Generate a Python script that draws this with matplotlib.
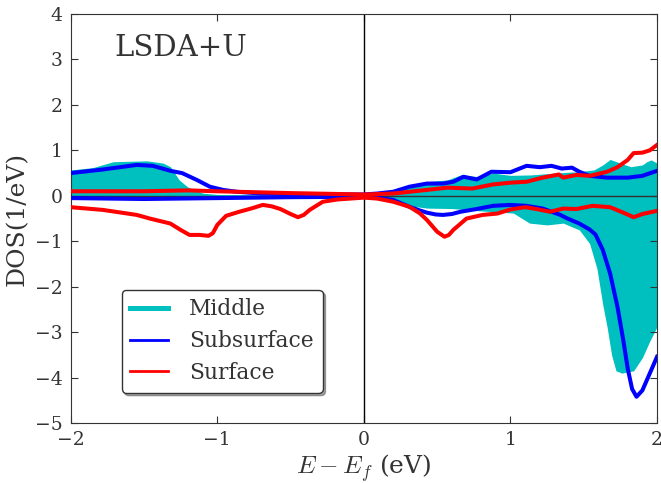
import matplotlib
matplotlib.use('Agg')
import matplotlib.pyplot as plt
from matplotlib.lines import Line2D
import numpy as np

plt.rcParams['font.family'] = 'DejaVu Serif'
plt.rcParams['mathtext.fontset'] = 'cm'
plt.rcParams['text.color'] = '#333333'
plt.rcParams['axes.labelcolor'] = '#333333'
plt.rcParams['xtick.color'] = '#333333'
plt.rcParams['ytick.color'] = '#333333'

# Layer-resolved DOS, spin up (positive) and spin down (negative)
mid_up_e = [-2.0, -1.85, -1.71, -1.6, -1.48, -1.37, -1.32, -1.26, -1.2, -1.1, -1.0, -0.5, 0.0,
            0.09, 0.2, 0.31, 0.43, 0.57, 0.66, 0.72, 0.79, 0.88, 1.0, 1.14, 1.3, 1.46, 1.57,
            1.63, 1.68, 1.75, 1.82, 1.9, 1.93, 1.96, 2.0]
mid_up = [0.57, 0.62, 0.75, 0.76, 0.77, 0.72, 0.64, 0.35, 0.19, 0.06, 0.03, 0.02, 0.02,
          0.04, 0.09, 0.24, 0.31, 0.35, 0.46, 0.44, 0.42, 0.5, 0.45, 0.46, 0.5, 0.53, 0.57,
          0.68, 0.8, 0.72, 0.64, 0.68, 0.75, 0.79, 0.72]

mid_dn_e = [-2.0, -1.5, -1.0, 0.0, 0.1, 0.2, 0.31, 0.43, 0.6, 0.79, 1.02, 1.13, 1.25, 1.36,
            1.47, 1.54, 1.59, 1.63, 1.66, 1.69, 1.72, 1.76, 1.84, 1.9, 1.95, 2.0]
mid_dn = [-0.06, -0.05, -0.03, -0.02, -0.04, -0.12, -0.22, -0.27, -0.28, -0.33, -0.38, -0.6,
          -0.64, -0.6, -0.75, -1.05, -1.6, -2.4, -2.9, -3.5, -3.85, -3.9, -3.85, -3.56, -3.2, -2.88]

sub_up_e = [-2.0, -1.78, -1.55, -1.44, -1.32, -1.24, -1.14, -1.05, -0.96, -0.87, -0.7, -0.3, 0.0,
            0.09, 0.2, 0.31, 0.43, 0.54, 0.61, 0.68, 0.77, 0.87, 1.0, 1.11, 1.2, 1.28, 1.35,
            1.42, 1.47, 1.54, 1.66, 1.8, 1.9, 2.0]
sub_up = [0.5, 0.58, 0.68, 0.66, 0.55, 0.5, 0.35, 0.2, 0.13, 0.09, 0.05, 0.03, 0.03,
          0.05, 0.09, 0.2, 0.27, 0.27, 0.31, 0.42, 0.36, 0.53, 0.52, 0.66, 0.63, 0.66, 0.6,
          0.62, 0.53, 0.44, 0.4, 0.4, 0.44, 0.55]

sub_dn_e = [-2.0, -1.5, -1.0, -0.5, 0.0, 0.09, 0.2, 0.31, 0.38, 0.43, 0.49, 0.54, 0.6, 0.66,
            0.77, 0.88, 1.0, 1.11, 1.22, 1.34, 1.39, 1.47, 1.54, 1.58, 1.63, 1.68, 1.73,
            1.77, 1.8, 1.83, 1.86, 1.9, 1.95, 2.0]
sub_dn = [-0.05, -0.07, -0.05, -0.03, -0.02, -0.04, -0.09, -0.24, -0.32, -0.37, -0.41, -0.42,
          -0.4, -0.35, -0.29, -0.22, -0.2, -0.22, -0.28, -0.42, -0.5, -0.61, -0.74, -0.85,
          -1.19, -1.71, -2.44, -3.18, -3.8, -4.25, -4.42, -4.28, -3.91, -3.54]

surf_up_e = [-2.0, -1.5, -1.2, -1.0, -0.5, 0.0, 0.2, 0.43, 0.57, 0.74, 0.88, 1.0, 1.11, 1.22,
             1.33, 1.36, 1.45, 1.54, 1.66, 1.73, 1.8, 1.84, 1.9, 1.95, 2.0]
surf_up = [0.1, 0.1, 0.12, 0.1, 0.06, 0.03, 0.05, 0.13, 0.18, 0.16, 0.25, 0.29, 0.31, 0.4,
           0.47, 0.4, 0.46, 0.44, 0.53, 0.63, 0.79, 0.94, 0.95, 1.0, 1.12]

surf_dn_e = [-2.0, -1.78, -1.55, -1.46, -1.32, -1.25, -1.19, -1.12, -1.06, -1.03, -1.0, -0.94,
             -0.85, -0.77, -0.69, -0.63, -0.57, -0.5, -0.45, -0.41, -0.37, -0.28, -0.18, 0.0,
             0.09, 0.2, 0.31, 0.38, 0.43, 0.5, 0.55, 0.58, 0.61, 0.7, 0.81, 0.91, 1.0, 1.1,
             1.16, 1.27, 1.36, 1.45, 1.56, 1.68, 1.77, 1.84, 1.9, 2.0]
surf_dn = [-0.25, -0.31, -0.42, -0.5, -0.61, -0.75, -0.86, -0.86, -0.88, -0.82, -0.64, -0.44,
           -0.35, -0.28, -0.2, -0.23, -0.29, -0.4, -0.47, -0.42, -0.31, -0.13, -0.08, -0.04,
           -0.06, -0.13, -0.24, -0.38, -0.53, -0.79, -0.9, -0.86, -0.75, -0.5, -0.42, -0.39,
           -0.3, -0.25, -0.28, -0.35, -0.28, -0.29, -0.22, -0.25, -0.37, -0.47, -0.4, -0.33]

CYAN = '#00bfbf'
BLUE = '#0000ff'
RED = '#ff0000'

fig = plt.figure(figsize=(6.61, 4.83), dpi=100)
ax = fig.add_axes([0.107, 0.124, 0.887, 0.847])

ax.fill_between(mid_up_e, 0, mid_up, color=CYAN, lw=0, zorder=1)
ax.fill_between(mid_dn_e, 0, mid_dn, color=CYAN, lw=0, zorder=1)
ax.axhline(0, color='#333333', lw=1.0, zorder=2)
ax.axvline(0, color='black', lw=1.0, zorder=2)

ax.plot(sub_up_e, sub_up, color=BLUE, lw=2.9, zorder=3, solid_joinstyle='round')
ax.plot(sub_dn_e, sub_dn, color=BLUE, lw=2.9, zorder=3, solid_joinstyle='round')
ax.plot(surf_up_e, surf_up, color=RED, lw=2.9, zorder=4, solid_joinstyle='round')
ax.plot(surf_dn_e, surf_dn, color=RED, lw=2.9, zorder=4, solid_joinstyle='round')

ax.set_xlim(-2, 2)
ax.set_ylim(-5, 4)
ax.set_xticks(np.arange(-2, 3, 1))
ax.set_yticks(np.arange(-5, 5, 1))
ax.tick_params(direction='in', top=True, right=True, labelsize=13.5, length=5, pad=6)
for sp in ax.spines.values():
    sp.set_color('#333333')

ax.set_xlabel(r'$E-E_f$ (eV)', fontsize=18, labelpad=2)
ax.set_ylabel('DOS(1/eV)', fontsize=18, labelpad=4)

ax.text(-1.7, 3.25, 'LSDA+U', fontsize=21, va='center', ha='left')

handles = [Line2D([], [], color=CYAN, lw=3.6),
           Line2D([], [], color=BLUE, lw=2.0),
           Line2D([], [], color=RED, lw=2.0)]
leg = ax.legend(handles, ['Middle', 'Subsurface', 'Surface'], loc='lower left',
                bbox_to_anchor=(0.087, 0.074), borderaxespad=0, fontsize=15.7,
                fancybox=True, shadow=True, framealpha=1, handlelength=1.7,
                handletextpad=1.0, labelspacing=0.45, borderpad=0.4)
leg.get_frame().set_edgecolor('#333333')

fig.savefig('out.png', dpi=100)
